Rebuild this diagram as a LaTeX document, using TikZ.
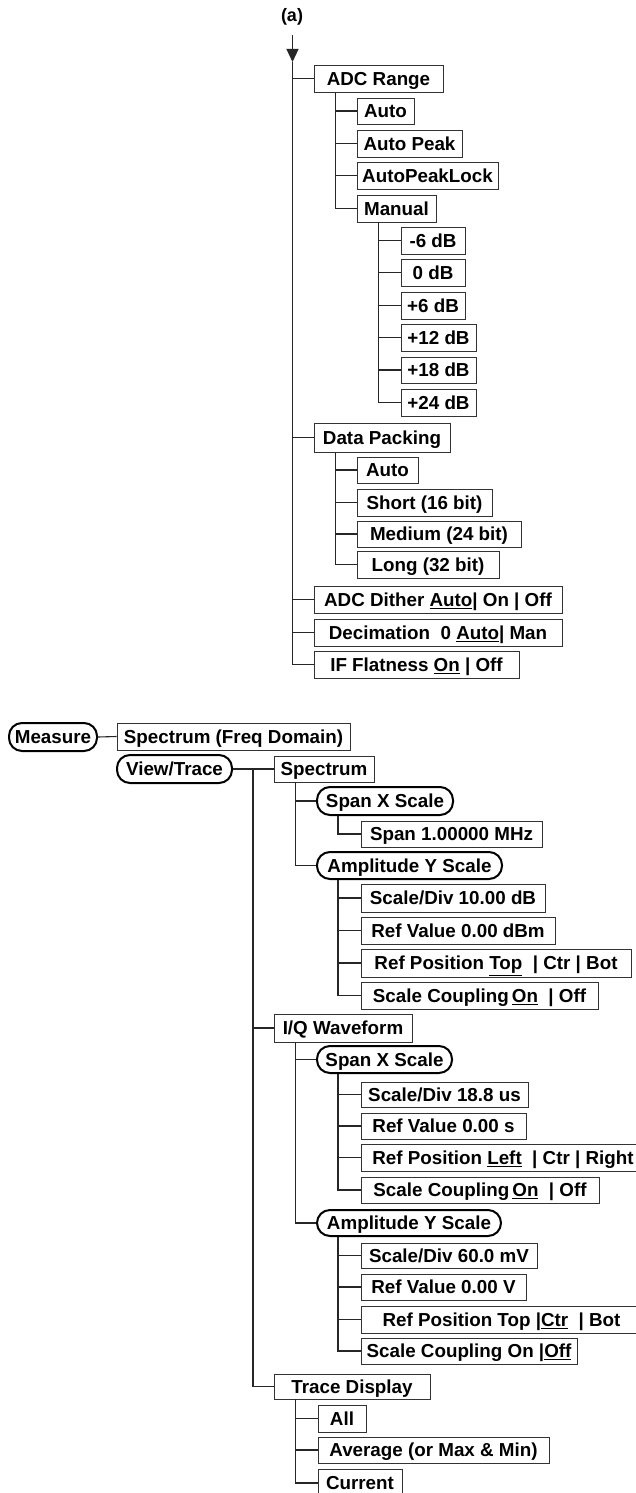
\documentclass[tikz,border=0pt]{standalone}
\usepackage{fontspec}
\setmainfont{Liberation Sans}
\usetikzlibrary{arrows.meta}
\tikzset{
  boxn/.style={draw=black!80, line width=0.9pt, inner sep=0pt, fill=white,
    font=\fontsize{18.8}{20}\selectfont\bfseries, text height=15pt, text depth=1.6pt},
  rndn/.style={boxn, draw=black, line width=2pt, rounded corners=13pt},
  conn/.style={draw=black!85, line width=1.1pt},
}
\newcommand\mybox[6]{\node[boxn, minimum width={(#4-#2)*1pt}, minimum height={(#5-#3)*1pt}] (#1) at ({(#2+#4)/2},{(#3+#5)/2}) {#6};}
\newcommand\myrnd[6]{\node[rndn, minimum width={(#4-#2)*1pt}, minimum height={(#5-#3)*1pt}] (#1) at ({(#2+#4)/2},{(#3+#5)/2}) {#6};}
\begin{document}
\begin{tikzpicture}[x=1pt,y=-1pt]
\fill[white] (0,0) rectangle (635,1493);
\useasboundingbox (0,0) rectangle (635,1493);
% ---------- part (a) ----------
\node[font=\fontsize{18}{19}\selectfont\bfseries] (lbl) at (292,17) {(a)};
\coordinate (top) at (292.5,35);
\coordinate (arr) at (292.5,62);
\draw[conn,-{Triangle[length=13pt,width=12pt]}] (top) -- (arr);
\mybox{adc}{314}{65}{443}{92}{ADC Range}
\mybox{a1}{357}{98}{414}{124}{Auto}
\mybox{a2}{357}{130}{462}{157}{Auto Peak}
\mybox{a3}{357}{162}{498}{189}{AutoPeakLock}
\mybox{man}{357}{195}{436}{222}{Manual}
\mybox{m1}{401}{227}{465}{254}{-6 dB}
\mybox{m2}{401}{259}{465}{286}{0 dB}
\mybox{m3}{401}{292}{465}{319}{+6 dB}
\mybox{m4}{401}{324}{476}{351}{+12 dB}
\mybox{m5}{401}{357}{476}{383}{+18 dB}
\mybox{m6}{401}{389}{476}{416}{+24 dB}
\mybox{dp}{314}{423}{450}{452}{Data Packing}
\mybox{d1}{357}{457}{418}{483}{Auto}
\mybox{d2}{357}{489}{492}{516}{Short (16 bit)}
\mybox{d3}{357}{521}{521}{547}{Medium (24 bit)}
\mybox{d4}{357}{551}{499}{578}{Long (32 bit)}
\mybox{dith}{314}{586}{562}{613}{ADC Dither \underline{Auto}| On | Off}
\mybox{dec}{314}{619}{562}{646}{Decimation\ \ 0 \underline{Auto}| Man}
\mybox{iff}{314}{651}{519}{678}{IF Flatness \underline{On} | Off}
\foreach \c in {adc,dp,dith,dec,iff} \draw[conn] (arr) |- (\c.west);
\coordinate (adcS) at ([xshift=22pt]adc.south west);
\foreach \c in {a1,a2,a3,man} \draw[conn] (adcS) |- (\c.west);
\coordinate (manS) at ([xshift=22pt]man.south west);
\foreach \c in {m1,m2,m3,m4,m5,m6} \draw[conn] (manS) |- (\c.west);
\coordinate (dpS) at ([xshift=22pt]dp.south west);
\foreach \c in {d1,d2,d3,d4} \draw[conn] (dpS) |- (\c.west);
% ---------- Measure part ----------
\myrnd{meas}{9}{723}{97}{751}{Measure}
\mybox{sfd}{117}{723}{350}{750}{Spectrum (Freq Domain)}
\draw[conn] (meas.east) -- (sfd.west);
\myrnd{vt}{117}{755}{232}{783}{View/Trace}
\mybox{spec}{274}{756}{374}{782}{Spectrum}
\draw[conn] (vt.east) -- (spec.west);
\coordinate (vtS) at (253,769);
\mybox{iq}{274}{1014}{412}{1042}{I/Q Waveform}
\mybox{td}{274}{1374}{430}{1399}{Trace Display}
\foreach \c in {iq,td} \draw[conn] (vtS) |- (\c.west);
% Spectrum
\myrnd{sx1}{317}{787}{453}{815}{Span X Scale}
\myrnd{ay1}{317}{852}{502}{879}{Amplitude Y Scale}
\coordinate (specS) at ([xshift=22pt]spec.south west);
\foreach \c in {sx1,ay1} \draw[conn] (specS) |- (\c.west);
\mybox{sp1}{361}{821}{542}{847}{Span 1.00000 MHz}
\coordinate (sx1S) at ([xshift=22pt]sx1.south west);
\draw[conn] (sx1S) |- (sp1.west);
\mybox{b1}{361}{884}{545}{912}{Scale/Div 10.00 dB}
\mybox{b2}{361}{917}{555}{944}{Ref Value 0.00 dBm}
\mybox{b3}{361}{949}{631}{977}{Ref Position \underline{Top}\ \ | Ctr | Bot}
\mybox{b4}{361}{982}{598}{1009}{Scale Coupling\,\underline{On}\ \ | Off}
\coordinate (ay1S) at ([xshift=22pt]ay1.south west);
\foreach \c in {b1,b2,b3,b4} \draw[conn] (ay1S) |- (\c.west);
% I/Q Waveform
\myrnd{sx2}{317}{1046}{452}{1073}{Span X Scale}
\myrnd{ay2}{317}{1210}{501}{1236}{Amplitude Y Scale}
\coordinate (iqS) at ([xshift=22pt]iq.south west);
\foreach \c in {sx2,ay2} \draw[conn] (iqS) |- (\c.west);
\mybox{c1}{361}{1082}{528}{1107}{Scale/Div 18.8 us}
\mybox{c2}{361}{1113}{526}{1139}{Ref Value 0.00 s}
\mybox{c3}{361}{1144}{645}{1171}{Ref Position \underline{Left}\ \ | Ctr | Right}
\mybox{c4}{361}{1177}{599}{1203}{Scale Coupling\,\underline{On}\ \ | Off}
\coordinate (sx2S) at ([xshift=22pt]sx2.south west);
\foreach \c in {c1,c2,c3,c4} \draw[conn] (sx2S) |- (\c.west);
\mybox{e1}{361}{1243}{537}{1268}{Scale/Div 60.0 mV}
\mybox{e2}{361}{1274}{526}{1300}{Ref Value 0.00 V}
\mybox{e3}{361}{1306}{642}{1333}{Ref Position Top |\underline{Ctr}\ \ | Bot}
\mybox{e4}{361}{1338}{577}{1364}{Scale Coupling On |\underline{Off}}
\coordinate (ay2S) at ([xshift=22pt]ay2.south west);
\foreach \c in {e1,e2,e3,e4} \draw[conn] (ay2S) |- (\c.west);
% Trace Display
\mybox{t1}{318}{1405}{366}{1432}{All}
\mybox{t2}{318}{1437}{549}{1463}{Average (or Max \& Min)}
\mybox{t3}{318}{1469}{402}{1497}{Current}
\coordinate (tdS) at ([xshift=22pt]td.south west);
\foreach \c in {t1,t2,t3} \draw[conn] (tdS) |- (\c.west);
\end{tikzpicture}
\end{document}
